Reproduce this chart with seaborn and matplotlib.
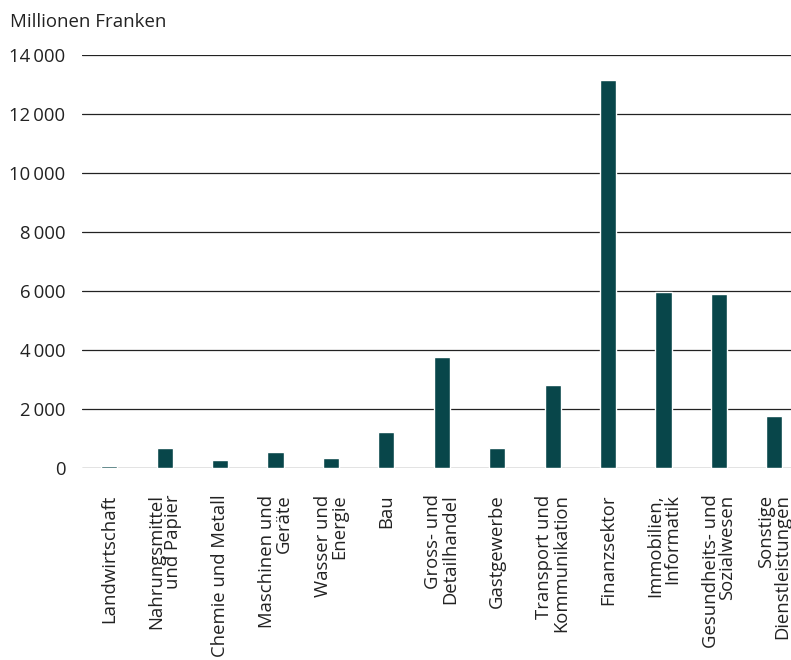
import matplotlib
matplotlib.use("Agg")
import matplotlib.pyplot as plt
import seaborn as sns
import pandas as pd

categories = [
    "Landwirtschaft", "Nahrungsmittel\nund Papier", "Chemie und Metall",
    "Maschinen und\nGeräte", "Wasser und\nEnergie", "Bau",
    "Gross- und\nDetailhandel", "Gastgewerbe", "Transport und\nKommunikation",
    "Finanzsektor", "Immobilien,\nInformatik", "Gesundheits- und\nSozialwesen",
    "Sonstige\nDienstleistungen",
]
values = [70, 680, 270, 540, 340, 1220, 3760, 680, 2810, 13150, 5970, 5900, 1760]
yticks = [0, 2000, 4000, 6000, 8000, 10000, 12000, 14000]
ytick_labels = ["0", "2\u2009000", "4\u2009000", "6\u2009000", "8\u2009000",
                "10\u2009000", "12\u2009000", "14\u2009000"]

sns.set_style("white")
plt.rcParams["font.family"] = ["Open Sans", "DejaVu Sans"]

df = pd.DataFrame({"cat": categories, "val": values})

fig = plt.figure(figsize=(7.91, 6.60), dpi=100)
ax = fig.add_axes([82 / 791, 1 - 468 / 660, 1 - 82 / 791, (468 - 55) / 660])

sns.barplot(data=df, x="cat", y="val", color="#08464a", width=0.29,
            saturation=1, ax=ax, zorder=3)

ax.set_ylim(0, 14000)
ax.set_xlim(-0.49, 12.3)
ax.set_yticks(yticks)
ax.set_yticklabels(ytick_labels, fontsize=13.3, color="#222222")
ax.set_xticks(range(len(categories)))
ax.set_xticklabels(categories, rotation=90, va="top", ha="center",
                   multialignment="right", fontsize=13.3, color="#222222",
                   linespacing=0.9)
ax.tick_params(axis="both", length=0)
ax.tick_params(axis="y", pad=12)
ax.tick_params(axis="x", pad=19)
ax.set_xlabel("")
ax.set_ylabel("")
for y in yticks:
    ax.axhline(y, color="#222222", lw=0.9, zorder=2)
for s in ax.spines.values():
    s.set_visible(False)

fig.text(10 / 791, 1 - 22 / 660, "Millionen Franken", fontsize=13.4,
         color="#222222", va="center", ha="left")

fig.savefig("out.png", dpi=100)
